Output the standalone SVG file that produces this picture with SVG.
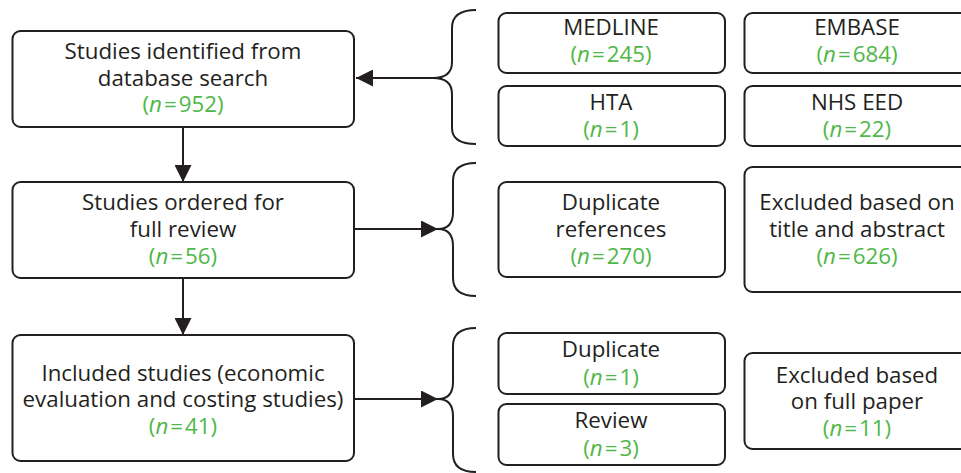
<svg xmlns="http://www.w3.org/2000/svg" width="961" height="473" viewBox="0 0 961 473">
<defs>
<marker id="ah" markerUnits="userSpaceOnUse" markerWidth="17" markerHeight="17" viewBox="0 0 17 17" refX="17" refY="8.5" orient="auto">
<path d="M0,0 L17,8.5 L0,17 z" fill="#231f20"/>
</marker>
<style>
.box{fill:#fff;stroke:#231f20;stroke-width:2}
text{font-family:"Open Sans","Noto Sans","Liberation Sans",sans-serif;font-size:22.3px;fill:#231f20;text-anchor:middle}
.g{fill:#4fb848}
.i{font-style:italic}
.ln{fill:none;stroke:#231f20;stroke-width:2}
</style>
</defs>
<rect width="961" height="473" fill="#fff"/>
<g id="connectors">
<line class="ln" x1="183" y1="127" x2="183" y2="182" marker-end="url(#ah)"/>
<line class="ln" x1="183" y1="278" x2="183" y2="335" marker-end="url(#ah)"/>
<line class="ln" x1="433" y1="78" x2="356" y2="78" marker-end="url(#ah)"/>
<line class="ln" x1="354" y1="229" x2="438" y2="229" marker-end="url(#ah)"/>
<line class="ln" x1="354" y1="399" x2="438" y2="399" marker-end="url(#ah)"/>
<path class="ln" d="M476,10 Q452,10 452,28 L452,62 Q452,78 433,78 Q452,78 452,94 L452,128 Q452,144 476,144"/>
<path class="ln" d="M476,163 Q453,163 453,181 L453,212 Q453,229 438,229 Q453,229 453,246 L453,278 Q453,296 476,296"/>
<path class="ln" d="M476,328 Q453,328 453,346 L453,382 Q453,399 438,399 Q453,399 453,416 L453,454 Q453,472 476,472"/>
</g>
<g id="n-identified">
<rect class="box" x="12.5" y="31" width="341.5" height="96" rx="8"/>
<text x="183" y="59">Studies identified from</text>
<text x="183" y="86">database search</text>
<text x="183" y="112" class="g">(<tspan class="i">n</tspan><tspan dx="2">=</tspan><tspan dx="2">952)</tspan></text>
</g>
<g id="n-ordered">
<rect class="box" x="12.5" y="182" width="341.5" height="96" rx="8"/>
<text x="183" y="210">Studies ordered for</text>
<text x="183" y="237">full review</text>
<text x="183" y="264" class="g">(<tspan class="i">n</tspan><tspan dx="2">=</tspan><tspan dx="2">56)</tspan></text>
</g>
<g id="n-included">
<rect class="box" x="12.5" y="335" width="341.5" height="126" rx="8"/>
<text x="183" y="381">Included studies (economic</text>
<text x="183" y="407">evaluation and costing studies)</text>
<text x="183" y="434" class="g">(<tspan class="i">n</tspan><tspan dx="2">=</tspan><tspan dx="2">41)</tspan></text>
</g>
<g id="n-medline">
<rect class="box" x="498.5" y="13" width="226.5" height="60" rx="8"/>
<text x="611" y="35">MEDLINE</text>
<text x="611" y="62" class="g">(<tspan class="i">n</tspan><tspan dx="2">=</tspan><tspan dx="2">245)</tspan></text>
</g>
<g id="n-embase">
<rect class="box" x="744.5" y="13" width="226.5" height="60" rx="8"/>
<text x="857" y="35">EMBASE</text>
<text x="857" y="62" class="g">(<tspan class="i">n</tspan><tspan dx="2">=</tspan><tspan dx="2">684)</tspan></text>
</g>
<g id="n-hta">
<rect class="box" x="498.5" y="86" width="226.5" height="60" rx="8"/>
<text x="611" y="110">HTA</text>
<text x="611" y="137" class="g">(<tspan class="i">n</tspan><tspan dx="2">=</tspan><tspan dx="2">1)</tspan></text>
</g>
<g id="n-nhseed">
<rect class="box" x="744.5" y="86" width="226.5" height="60" rx="8"/>
<text x="857" y="110">NHS EED</text>
<text x="857" y="137" class="g">(<tspan class="i">n</tspan><tspan dx="2">=</tspan><tspan dx="2">22)</tspan></text>
</g>
<g id="n-dupref">
<rect class="box" x="498.5" y="182" width="226.5" height="95" rx="8"/>
<text x="611" y="210">Duplicate</text>
<text x="611" y="237">references</text>
<text x="611" y="264" class="g">(<tspan class="i">n</tspan><tspan dx="2">=</tspan><tspan dx="2">270)</tspan></text>
</g>
<g id="n-excl-title">
<rect class="box" x="744.5" y="167" width="226.5" height="125" rx="8"/>
<text x="857" y="210">Excluded based on</text>
<text x="857" y="237">title and abstract</text>
<text x="857" y="264" class="g">(<tspan class="i">n</tspan><tspan dx="2">=</tspan><tspan dx="2">626)</tspan></text>
</g>
<g id="n-dup">
<rect class="box" x="498.5" y="333" width="226.5" height="61" rx="8"/>
<text x="611" y="357">Duplicate</text>
<text x="611" y="385" class="g">(<tspan class="i">n</tspan><tspan dx="2">=</tspan><tspan dx="2">1)</tspan></text>
</g>
<g id="n-review">
<rect class="box" x="498.5" y="404" width="226.5" height="61" rx="8"/>
<text x="611" y="428">Review</text>
<text x="611" y="456" class="g">(<tspan class="i">n</tspan><tspan dx="2">=</tspan><tspan dx="2">3)</tspan></text>
</g>
<g id="n-excl-full">
<rect class="box" x="744.5" y="353" width="226.5" height="96" rx="8"/>
<text x="857" y="383">Excluded based</text>
<text x="857" y="409">on full paper</text>
<text x="857" y="436" class="g">(<tspan class="i">n</tspan><tspan dx="2">=</tspan><tspan dx="2">11)</tspan></text>
</g>
</svg>
